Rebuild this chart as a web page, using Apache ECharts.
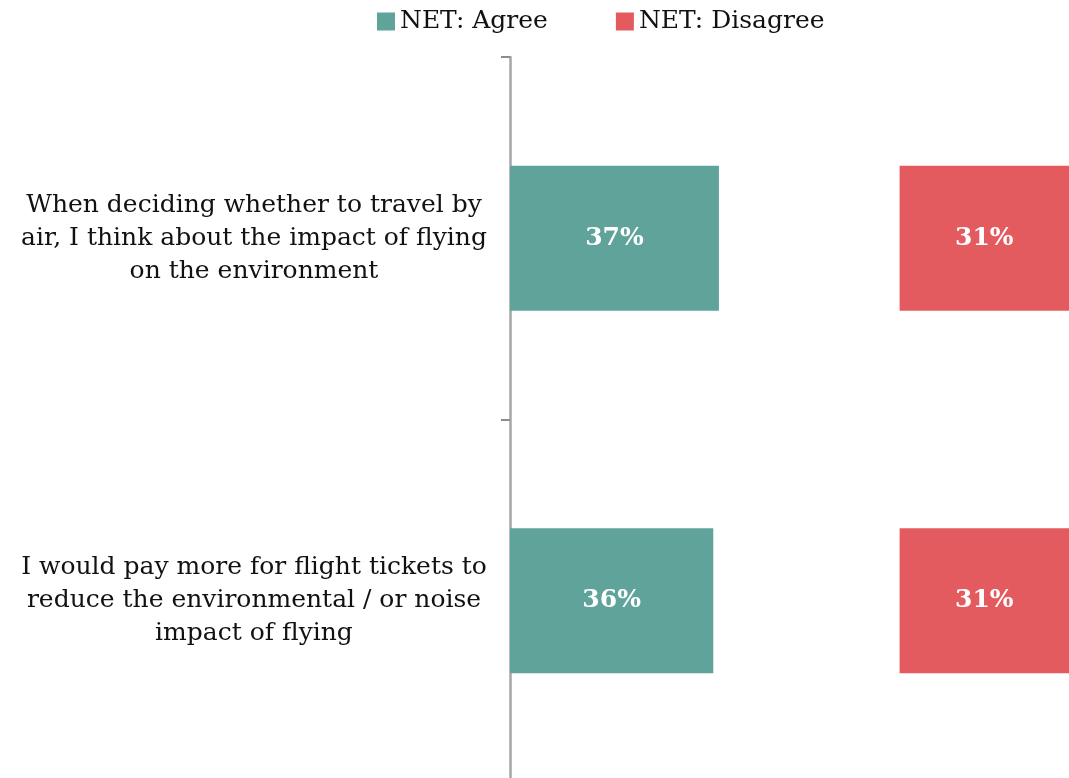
<!DOCTYPE html>
<html>
<head>
<meta charset="utf-8">
<script src="https://cdn.jsdelivr.net/npm/echarts@6/dist/echarts.min.js"></script>
<style>
    html, body { margin: 0; padding: 0; background: #fff; overflow: hidden; }
    /* a few px taller than the window so the last axis tick falls off the bottom */
    #chart0 { width: 1069px; height: 782px; }
</style>
</head>
<body>
<div id="chart0"></div>
<script>
// statements shown on the left, top to bottom
var categories = [
    'When deciding whether to travel by\nair, I think about the impact of flying\non the environment',
    'I would pay more for flight tickets to\nreduce the environmental / or noise\nimpact of flying'
];
var agree = [37, 36];
var neither = [32, 33];   // hidden middle part of the 100% bar
var disagree = [31, 31];

var teal = '#5fa39b';
var red = '#e35b5e';
var serif = 'DejaVu Serif';

var chartDom = document.getElementById('chart0');
var myChart = echarts.init(chartDom);
var option;

var pctLabel = {
    show: true,
    position: 'inside',
    color: '#fff',
    fontFamily: serif,
    fontWeight: 'bold',
    fontSize: 25,
    formatter: '{c}%'
};

option = {
    animation: false,
    legend: {
        data: ['NET: Agree', 'NET: Disagree'],
        top: 4,
        left: 372,
        icon: 'rect',
        itemWidth: 18,
        itemHeight: 18,
        itemGap: 68,
        textStyle: {
            fontFamily: serif,
            fontSize: 25,
            color: '#111'
        }
    },
    grid: {
        left: 510,
        right: 0,
        top: 57,
        bottom: 0
    },
    // the picture is cut off a little before 100%
    xAxis: {
        type: 'value',
        min: 0,
        max: 99,
        show: false
    },
    yAxis: {
        type: 'category',
        inverse: true,
        data: categories,
        axisLine: {
            show: true,
            lineStyle: { color: '#a6a6a6', width: 2.5 }
        },
        axisTick: {
            show: true,
            length: 9,
            lineStyle: { color: '#8c8c8c', width: 2 }
        },
        axisLabel: {
            align: 'center',
            margin: 256,
            fontFamily: serif,
            fontSize: 25,
            lineHeight: 33,
            color: '#111'
        }
    },
    series: [
        {
            name: 'NET: Agree',
            type: 'bar',
            stack: 'all',
            barWidth: '40%',
            itemStyle: { color: teal },
            label: pctLabel,
            data: agree
        },
        {
            name: 'Neither',
            type: 'bar',
            stack: 'all',
            itemStyle: { color: 'rgba(0,0,0,0)' },
            label: { show: false },
            emphasis: { disabled: true },
            data: neither
        },
        {
            name: 'NET: Disagree',
            type: 'bar',
            stack: 'all',
            itemStyle: { color: red },
            label: pctLabel,
            data: disagree
        }
    ]
};

option && myChart.setOption(option);
</script>
</body>
</html>
